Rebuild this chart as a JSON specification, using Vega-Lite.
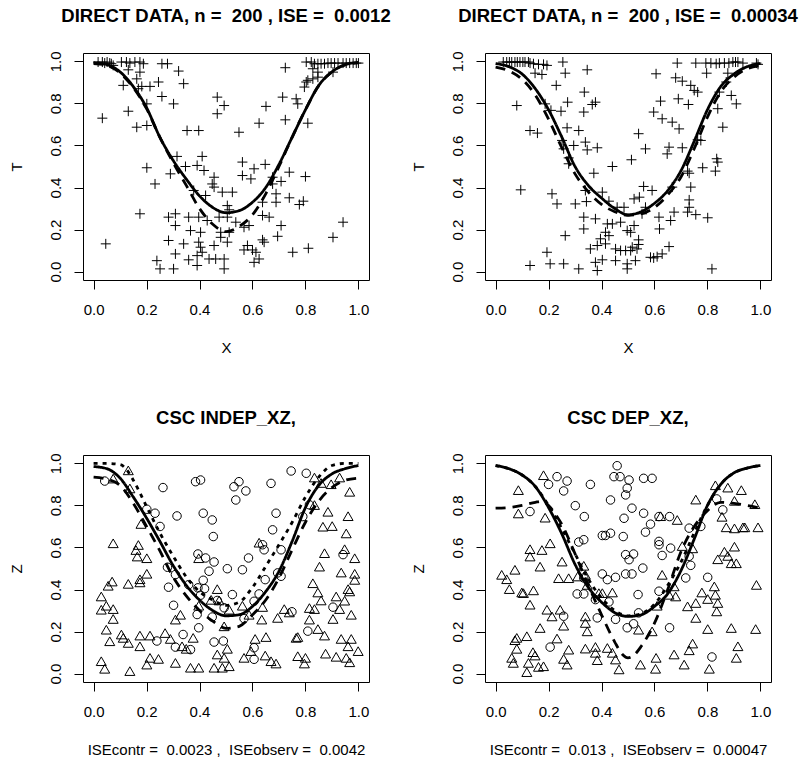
{
"$schema": "https://vega.github.io/schema/vega-lite/v6.json",
"background": "white",
"padding": {"left": 8, "top": 6, "right": 0, "bottom": 0},
"columns": 2,
"spacing": {"row": 175, "column": 116},
"bounds": "flush",
"datasets": {
"ptsA": [
[0.017,0.997],[0.033,0.997],[0.042,0.992],[0.051,0.997],[0.061,0.992],[0.067,0.989],[0.074,0.981],[0.105,0.997],[0.124,0.997],[0.137,0.992],[0.156,0.997],[0.175,0.997],[0.188,0.989],[0.258,0.989],[0.279,0.989],[0.131,0.960],[0.175,0.949],[0.321,0.954],[0.163,0.917],[0.112,0.886],[0.182,0.881],[0.213,0.881],[0.245,0.902],[0.340,0.894],[0.169,0.870],[0.258,0.833],[0.302,0.798],[0.467,0.830],[0.493,0.790],[0.467,0.751],[0.201,0.798],[0.131,0.763],[0.033,0.730],[0.163,0.687],[0.201,0.695],[0.353,0.671],[0.397,0.671],[0.315,0.548],[0.410,0.548],[0.347,0.500],[0.391,0.505],[0.417,0.481],[0.201,0.494],[0.290,0.465],[0.455,0.449],[0.448,0.417],[0.455,0.402],[0.232,0.417],[0.378,0.386],[0.423,0.362],[0.486,0.378],[0.524,0.378],[0.505,0.314],[0.512,0.294],[0.175,0.275],[0.283,0.259],[0.309,0.275],[0.359,0.259],[0.397,0.259],[0.429,0.243],[0.474,0.259],[0.505,0.259],[0.309,0.219],[0.366,0.195],[0.404,0.187],[0.480,0.187],[0.512,0.187],[0.283,0.148],[0.340,0.132],[0.397,0.140],[0.404,0.116],[0.455,0.124],[0.480,0.163],[0.505,0.140],[0.046,0.132],[0.309,0.084],[0.359,0.056],[0.391,0.076],[0.410,0.092],[0.436,0.060],[0.461,0.060],[0.493,0.060],[0.239,0.052],[0.251,0.013],[0.302,0.013],[0.391,0.029],[0.493,0.013],
[0.803,0.997],[0.822,0.997],[0.834,0.989],[0.847,0.989],[0.859,0.989],[0.872,0.989],[0.885,0.992],[0.897,0.992],[0.910,0.992],[0.923,0.992],[0.942,0.992],[0.954,0.992],[0.967,0.992],[0.980,0.992],[0.992,0.992],[1.0,0.992],[0.724,0.970],[0.828,0.965],[0.847,0.949],[0.904,0.949],[0.809,0.910],[0.828,0.917],[0.847,0.925],[0.796,0.878],[0.803,0.902],[0.714,0.830],[0.765,0.822],[0.771,0.798],[0.651,0.786],[0.625,0.706],[0.724,0.722],[0.809,0.706],[0.549,0.663],[0.562,0.521],[0.606,0.489],[0.648,0.510],[0.562,0.457],[0.594,0.441],[0.676,0.449],[0.739,0.473],[0.800,0.452],[0.708,0.429],[0.676,0.417],[0.689,0.370],[0.689,0.330],[0.739,0.351],[0.777,0.319],[0.792,0.335],[0.638,0.330],[0.537,0.235],[0.568,0.211],[0.587,0.219],[0.638,0.267],[0.663,0.259],[0.708,0.219],[0.695,0.168],[0.638,0.151],[0.644,0.140],[0.942,0.235],[0.904,0.163],[0.752,0.092],[0.811,0.111],[0.568,0.103],[0.581,0.124],[0.600,0.103],[0.613,0.092],[0.606,0.044],[0.625,0.060]
],
"ptsB": [
[0.029,0.997],[0.042,0.997],[0.052,0.997],[0.061,0.997],[0.073,0.997],[0.082,0.997],[0.092,0.997],[0.103,0.997],[0.111,0.997],[0.124,0.997],[0.130,0.992],[0.143,0.989],[0.162,0.986],[0.181,0.986],[0.194,0.981],[0.254,0.997],[0.149,0.944],[0.175,0.938],[0.263,0.944],[0.346,0.960],[0.229,0.886],[0.335,0.854],[0.080,0.790],[0.187,0.798],[0.209,0.767],[0.247,0.763],[0.272,0.806],[0.333,0.759],[0.365,0.795],[0.377,0.806],[0.130,0.671],[0.158,0.659],[0.270,0.684],[0.314,0.671],[0.251,0.624],[0.295,0.600],[0.339,0.616],[0.346,0.579],[0.384,0.589],[0.257,0.584],[0.276,0.541],[0.276,0.513],[0.513,0.532],[0.441,0.500],[0.371,0.468],[0.095,0.389],[0.213,0.370],[0.232,0.322],[0.301,0.322],[0.343,0.333],[0.403,0.378],[0.428,0.335],[0.339,0.386],[0.523,0.346],[0.459,0.306],[0.485,0.306],[0.333,0.259],[0.377,0.251],[0.333,0.203],[0.422,0.227],[0.441,0.227],[0.472,0.235],[0.497,0.195],[0.510,0.187],[0.523,0.219],[0.263,0.171],[0.415,0.187],[0.428,0.171],[0.396,0.156],[0.384,0.124],[0.415,0.132],[0.358,0.108],[0.453,0.108],[0.472,0.100],[0.491,0.100],[0.510,0.100],[0.516,0.116],[0.194,0.092],[0.130,0.029],[0.206,0.037],[0.257,0.037],[0.314,0.013],[0.377,0.044],[0.384,0.005],[0.403,0.056],[0.453,0.052],[0.497,0.037],[0.497,0.013],
[0.686,0.992],[0.756,0.992],[0.794,0.992],[0.813,0.992],[0.833,0.989],[0.845,0.992],[0.864,0.992],[0.881,0.992],[0.896,0.997],[0.906,0.997],[0.915,0.997],[0.934,0.992],[0.985,0.992],[0.991,0.986],[0.797,0.944],[0.877,0.944],[0.606,0.941],[0.680,0.922],[0.705,0.906],[0.737,0.886],[0.750,0.862],[0.763,0.854],[0.871,0.902],[0.845,0.854],[0.890,0.838],[0.909,0.798],[0.839,0.775],[0.623,0.811],[0.690,0.822],[0.728,0.795],[0.597,0.759],[0.629,0.727],[0.667,0.711],[0.693,0.679],[0.858,0.687],[0.540,0.656],[0.566,0.584],[0.655,0.592],[0.648,0.560],[0.705,0.589],[0.763,0.627],[0.775,0.624],[0.835,0.537],[0.839,0.521],[0.830,0.478],[0.782,0.494],[0.725,0.478],[0.731,0.468],[0.559,0.405],[0.591,0.386],[0.667,0.402],[0.737,0.402],[0.731,0.341],[0.543,0.354],[0.566,0.306],[0.553,0.275],[0.731,0.306],[0.725,0.283],[0.756,0.271],[0.801,0.256],[0.674,0.283],[0.661,0.243],[0.617,0.259],[0.619,0.203],[0.540,0.151],[0.540,0.129],[0.534,0.108],[0.528,0.052],[0.655,0.119],[0.629,0.084],[0.610,0.071],[0.585,0.068],[0.597,0.065],[0.817,0.013]
],
"circC": [
[0.042,0.916],[0.262,0.885],[0.385,0.913],[0.404,0.921],[0.201,0.782],[0.232,0.763],[0.315,0.750],[0.414,0.763],[0.448,0.731],[0.251,0.700],[0.452,0.652],[0.394,0.569],[0.423,0.550],[0.455,0.531],[0.505,0.499],[0.436,0.487],[0.279,0.506],[0.309,0.471],[0.414,0.444],[0.359,0.423],[0.394,0.408],[0.419,0.404],[0.283,0.411],[0.404,0.373],[0.467,0.348],[0.493,0.313],[0.302,0.325],[0.391,0.281],[0.448,0.269],[0.397,0.218],[0.338,0.186],[0.239,0.155],[0.309,0.126],[0.366,0.114],[0.455,0.150],[0.490,0.155],
[0.530,0.889],[0.549,0.913],[0.575,0.869],[0.537,0.826],[0.670,0.905],[0.746,0.964],[0.803,0.953],[0.689,0.763],[0.676,0.684],[0.815,0.803],[0.790,0.747],[0.638,0.613],[0.644,0.589],[0.585,0.550],[0.562,0.494],[0.708,0.589],[0.695,0.479],[0.648,0.447],[0.708,0.463],[0.625,0.379],[0.524,0.376],[0.606,0.344],[0.749,0.294],[0.568,0.262],[0.904,0.316],[0.942,0.566],[0.809,0.202],[0.606,0.123],[0.606,0.068]
],
"triC": [
[0.131,0.960],[0.074,0.921],[0.137,0.874],[0.179,0.705],[0.074,0.613],[0.169,0.605],[0.160,0.581],[0.165,0.550],[0.201,0.542],[0.397,0.542],[0.201,0.468],[0.175,0.442],[0.070,0.431],[0.055,0.411],[0.131,0.420],[0.175,0.427],[0.467,0.395],[0.029,0.360],[0.444,0.344],[0.474,0.341],[0.048,0.316],[0.029,0.297],[0.074,0.300],[0.074,0.253],[0.397,0.316],[0.328,0.273],[0.309,0.250],[0.512,0.297],[0.493,0.218],[0.048,0.202],[0.105,0.179],[0.112,0.163],[0.061,0.147],[0.131,0.139],[0.175,0.174],[0.213,0.174],[0.270,0.186],[0.290,0.158],[0.175,0.123],[0.334,0.123],[0.350,0.111],[0.376,0.163],[0.505,0.111],[0.467,0.084],[0.493,0.068],[0.029,0.052],[0.042,0.016],[0.137,0.005],[0.213,0.068],[0.245,0.063],[0.201,0.036],[0.309,0.044],[0.366,0.021],[0.397,0.021],[0.455,0.021],[0.486,0.021],[0.512,0.028],
[0.834,0.926],[0.859,0.900],[0.897,0.894],[0.929,0.926],[0.967,0.858],[0.834,0.795],[0.885,0.763],[0.961,0.742],[0.866,0.692],[0.901,0.695],[0.954,0.660],[0.625,0.616],[0.872,0.566],[0.948,0.585],[0.986,0.542],[0.853,0.502],[0.935,0.474],[0.986,0.468],[0.986,0.439],[0.828,0.423],[0.847,0.379],[0.859,0.341],[0.961,0.395],[0.967,0.384],[0.916,0.360],[0.948,0.340],[0.929,0.300],[0.973,0.273],[0.904,0.253],[0.815,0.305],[0.834,0.300],[0.720,0.300],[0.739,0.284],[0.638,0.310],[0.635,0.250],[0.695,0.258],[0.562,0.316],[0.587,0.273],[0.815,0.250],[0.847,0.205],[0.872,0.174],[0.610,0.158],[0.651,0.167],[0.765,0.163],[0.771,0.167],[0.935,0.158],[0.973,0.158],[0.961,0.123],[0.999,0.100],[0.568,0.068],[0.594,0.100],[0.648,0.079],[0.670,0.052],[0.689,0.041],[0.771,0.076],[0.800,0.068],[0.796,0.041],[0.876,0.088],[0.916,0.073],[0.954,0.068],[0.967,0.047]
],
"circD": [
[0.232,0.937],[0.200,0.900],[0.270,0.916],[0.257,0.869],[0.358,0.900],[0.459,0.989],[0.447,0.937],[0.470,0.937],[0.504,0.921],[0.497,0.882],[0.434,0.826],[0.491,0.850],[0.130,0.771],[0.301,0.799],[0.335,0.747],[0.485,0.739],[0.314,0.626],[0.333,0.637],[0.403,0.657],[0.415,0.657],[0.434,0.668],[0.482,0.652],[0.491,0.566],[0.504,0.542],[0.403,0.474],[0.422,0.447],[0.453,0.458],[0.491,0.474],[0.333,0.455],[0.308,0.379],[0.333,0.379],[0.377,0.352],[0.428,0.341],[0.384,0.265],[0.453,0.258],[0.497,0.218],[0.257,0.273],[0.206,0.126],
[0.559,0.929],[0.591,0.929],[0.515,0.787],[0.559,0.763],[0.585,0.711],[0.566,0.673],[0.617,0.747],[0.657,0.747],[0.731,0.692],[0.775,0.700],[0.617,0.629],[0.617,0.613],[0.629,0.562],[0.661,0.597],[0.731,0.558],[0.737,0.515],[0.718,0.455],[0.521,0.569],[0.515,0.474],[0.556,0.502],[0.538,0.376],[0.617,0.392],[0.801,0.458],[0.858,0.779],[0.835,0.831],[0.657,0.218],[0.817,0.079],[0.540,0.289],[0.521,0.237]
],
"triD": [
[0.181,0.937],[0.086,0.866],[0.086,0.755],[0.187,0.735],[0.206,0.613],[0.130,0.585],[0.175,0.581],[0.130,0.550],[0.168,0.502],[0.251,0.526],[0.073,0.487],[0.023,0.463],[0.042,0.442],[0.052,0.395],[0.099,0.379],[0.105,0.376],[0.143,0.389],[0.238,0.447],[0.276,0.447],[0.310,0.455],[0.333,0.506],[0.339,0.463],[0.346,0.415],[0.390,0.376],[0.403,0.376],[0.441,0.379],[0.130,0.321],[0.194,0.297],[0.213,0.265],[0.244,0.297],[0.257,0.221],[0.339,0.265],[0.339,0.234],[0.346,0.194],[0.168,0.210],[0.080,0.163],[0.073,0.152],[0.118,0.171],[0.080,0.111],[0.232,0.160],[0.061,0.068],[0.067,0.044],[0.141,0.095],[0.149,0.079],[0.124,0.044],[0.162,0.025],[0.118,0.000],[0.257,0.063],[0.270,0.036],[0.276,0.107],[0.339,0.112],[0.377,0.120],[0.377,0.092],[0.384,0.057],[0.422,0.115],[0.441,0.092],[0.453,0.060],[0.466,0.013],[0.181,0.028],
[0.623,0.742],[0.686,0.724],[0.830,0.889],[0.877,0.878],[0.928,0.866],[0.756,0.821],[0.902,0.815],[0.979,0.799],[0.855,0.739],[0.871,0.689],[0.902,0.684],[0.934,0.689],[0.941,0.689],[0.991,0.689],[0.705,0.600],[0.744,0.589],[0.864,0.573],[0.877,0.553],[0.902,0.597],[0.839,0.537],[0.890,0.518],[0.909,0.518],[0.629,0.463],[0.674,0.408],[0.655,0.368],[0.680,0.360],[0.725,0.313],[0.756,0.329],[0.779,0.379],[0.801,0.348],[0.826,0.408],[0.830,0.368],[0.839,0.329],[0.835,0.289],[0.756,0.258],[0.610,0.316],[0.591,0.194],[0.540,0.202],[0.801,0.205],[0.890,0.210],[0.982,0.205],[0.985,0.415],[0.744,0.136],[0.731,0.104],[0.674,0.084],[0.606,0.068],[0.547,0.036],[0.604,0.016],[0.712,0.036],[0.807,0.016],[0.909,0.068],[0.915,0.123]
],
"curves": [
{"p":"A","l":"solid","x":0,"y":0.994},{"p":"A","l":"solid","x":0.05,"y":0.985},{"p":"A","l":"solid","x":0.1,"y":0.95},{"p":"A","l":"solid","x":0.15,"y":0.88},{"p":"A","l":"solid","x":0.2,"y":0.78},{"p":"A","l":"solid","x":0.25,"y":0.64},{"p":"A","l":"solid","x":0.3,"y":0.53},{"p":"A","l":"solid","x":0.35,"y":0.44},{"p":"A","l":"solid","x":0.4,"y":0.36},{"p":"A","l":"solid","x":0.45,"y":0.305},{"p":"A","l":"solid","x":0.5,"y":0.28},{"p":"A","l":"solid","x":0.55,"y":0.29},{"p":"A","l":"solid","x":0.6,"y":0.33},{"p":"A","l":"solid","x":0.65,"y":0.4},{"p":"A","l":"solid","x":0.7,"y":0.51},{"p":"A","l":"solid","x":0.75,"y":0.64},{"p":"A","l":"solid","x":0.8,"y":0.77},{"p":"A","l":"solid","x":0.85,"y":0.885},{"p":"A","l":"solid","x":0.9,"y":0.95},{"p":"A","l":"solid","x":0.95,"y":0.985},{"p":"A","l":"solid","x":1,"y":0.995},
{"p":"A","l":"dashed","x":0,"y":0.99},{"p":"A","l":"dashed","x":0.05,"y":0.982},{"p":"A","l":"dashed","x":0.1,"y":0.945},{"p":"A","l":"dashed","x":0.15,"y":0.875},{"p":"A","l":"dashed","x":0.2,"y":0.775},{"p":"A","l":"dashed","x":0.25,"y":0.64},{"p":"A","l":"dashed","x":0.3,"y":0.52},{"p":"A","l":"dashed","x":0.35,"y":0.41},{"p":"A","l":"dashed","x":0.4,"y":0.3},{"p":"A","l":"dashed","x":0.45,"y":0.225},{"p":"A","l":"dashed","x":0.5,"y":0.19},{"p":"A","l":"dashed","x":0.55,"y":0.215},{"p":"A","l":"dashed","x":0.6,"y":0.27},{"p":"A","l":"dashed","x":0.65,"y":0.37},{"p":"A","l":"dashed","x":0.7,"y":0.5},{"p":"A","l":"dashed","x":0.75,"y":0.64},{"p":"A","l":"dashed","x":0.8,"y":0.77},{"p":"A","l":"dashed","x":0.85,"y":0.885},{"p":"A","l":"dashed","x":0.9,"y":0.95},{"p":"A","l":"dashed","x":0.95,"y":0.983},{"p":"A","l":"dashed","x":1,"y":0.993},
{"p":"B","l":"solid","x":0,"y":0.99},{"p":"B","l":"solid","x":0.05,"y":0.975},{"p":"B","l":"solid","x":0.1,"y":0.94},{"p":"B","l":"solid","x":0.15,"y":0.87},{"p":"B","l":"solid","x":0.2,"y":0.77},{"p":"B","l":"solid","x":0.25,"y":0.64},{"p":"B","l":"solid","x":0.3,"y":0.5},{"p":"B","l":"solid","x":0.35,"y":0.41},{"p":"B","l":"solid","x":0.4,"y":0.35},{"p":"B","l":"solid","x":0.45,"y":0.3},{"p":"B","l":"solid","x":0.5,"y":0.27},{"p":"B","l":"solid","x":0.55,"y":0.285},{"p":"B","l":"solid","x":0.6,"y":0.325},{"p":"B","l":"solid","x":0.65,"y":0.385},{"p":"B","l":"solid","x":0.7,"y":0.48},{"p":"B","l":"solid","x":0.75,"y":0.62},{"p":"B","l":"solid","x":0.8,"y":0.77},{"p":"B","l":"solid","x":0.85,"y":0.88},{"p":"B","l":"solid","x":0.9,"y":0.94},{"p":"B","l":"solid","x":0.95,"y":0.975},{"p":"B","l":"solid","x":1,"y":0.99},
{"p":"B","l":"dashed","x":0,"y":0.973},{"p":"B","l":"dashed","x":0.05,"y":0.955},{"p":"B","l":"dashed","x":0.1,"y":0.915},{"p":"B","l":"dashed","x":0.15,"y":0.84},{"p":"B","l":"dashed","x":0.2,"y":0.725},{"p":"B","l":"dashed","x":0.25,"y":0.59},{"p":"B","l":"dashed","x":0.3,"y":0.465},{"p":"B","l":"dashed","x":0.35,"y":0.38},{"p":"B","l":"dashed","x":0.4,"y":0.32},{"p":"B","l":"dashed","x":0.45,"y":0.285},{"p":"B","l":"dashed","x":0.5,"y":0.268},{"p":"B","l":"dashed","x":0.55,"y":0.275},{"p":"B","l":"dashed","x":0.6,"y":0.305},{"p":"B","l":"dashed","x":0.65,"y":0.365},{"p":"B","l":"dashed","x":0.7,"y":0.45},{"p":"B","l":"dashed","x":0.75,"y":0.585},{"p":"B","l":"dashed","x":0.8,"y":0.735},{"p":"B","l":"dashed","x":0.85,"y":0.855},{"p":"B","l":"dashed","x":0.9,"y":0.925},{"p":"B","l":"dashed","x":0.95,"y":0.965},{"p":"B","l":"dashed","x":1,"y":0.98},
{"p":"C","l":"solid","x":0,"y":0.985},{"p":"C","l":"solid","x":0.05,"y":0.975},{"p":"C","l":"solid","x":0.1,"y":0.93},{"p":"C","l":"solid","x":0.15,"y":0.84},{"p":"C","l":"solid","x":0.2,"y":0.74},{"p":"C","l":"solid","x":0.25,"y":0.63},{"p":"C","l":"solid","x":0.3,"y":0.515},{"p":"C","l":"solid","x":0.35,"y":0.42},{"p":"C","l":"solid","x":0.4,"y":0.35},{"p":"C","l":"solid","x":0.45,"y":0.3},{"p":"C","l":"solid","x":0.5,"y":0.275},{"p":"C","l":"solid","x":0.55,"y":0.28},{"p":"C","l":"solid","x":0.6,"y":0.32},{"p":"C","l":"solid","x":0.65,"y":0.39},{"p":"C","l":"solid","x":0.7,"y":0.487},{"p":"C","l":"solid","x":0.75,"y":0.63},{"p":"C","l":"solid","x":0.8,"y":0.79},{"p":"C","l":"solid","x":0.85,"y":0.895},{"p":"C","l":"solid","x":0.9,"y":0.95},{"p":"C","l":"solid","x":0.95,"y":0.975},{"p":"C","l":"solid","x":1,"y":0.99},
{"p":"C","l":"dotted","x":0,"y":1.0},{"p":"C","l":"dotted","x":0.05,"y":1.0},{"p":"C","l":"dotted","x":0.1,"y":0.995},{"p":"C","l":"dotted","x":0.125,"y":0.97},{"p":"C","l":"dotted","x":0.15,"y":0.92},{"p":"C","l":"dotted","x":0.2,"y":0.795},{"p":"C","l":"dotted","x":0.25,"y":0.67},{"p":"C","l":"dotted","x":0.3,"y":0.56},{"p":"C","l":"dotted","x":0.35,"y":0.46},{"p":"C","l":"dotted","x":0.4,"y":0.39},{"p":"C","l":"dotted","x":0.45,"y":0.35},{"p":"C","l":"dotted","x":0.5,"y":0.325},{"p":"C","l":"dotted","x":0.55,"y":0.34},{"p":"C","l":"dotted","x":0.6,"y":0.41},{"p":"C","l":"dotted","x":0.65,"y":0.51},{"p":"C","l":"dotted","x":0.7,"y":0.613},{"p":"C","l":"dotted","x":0.75,"y":0.72},{"p":"C","l":"dotted","x":0.8,"y":0.84},{"p":"C","l":"dotted","x":0.85,"y":0.935},{"p":"C","l":"dotted","x":0.9,"y":0.99},{"p":"C","l":"dotted","x":0.95,"y":1.0},{"p":"C","l":"dotted","x":1,"y":1.0},
{"p":"C","l":"dashed","x":0,"y":0.935},{"p":"C","l":"dashed","x":0.05,"y":0.925},{"p":"C","l":"dashed","x":0.1,"y":0.895},{"p":"C","l":"dashed","x":0.15,"y":0.81},{"p":"C","l":"dashed","x":0.2,"y":0.7},{"p":"C","l":"dashed","x":0.25,"y":0.585},{"p":"C","l":"dashed","x":0.3,"y":0.46},{"p":"C","l":"dashed","x":0.35,"y":0.37},{"p":"C","l":"dashed","x":0.4,"y":0.3},{"p":"C","l":"dashed","x":0.45,"y":0.25},{"p":"C","l":"dashed","x":0.5,"y":0.215},{"p":"C","l":"dashed","x":0.55,"y":0.225},{"p":"C","l":"dashed","x":0.6,"y":0.28},{"p":"C","l":"dashed","x":0.65,"y":0.35},{"p":"C","l":"dashed","x":0.7,"y":0.455},{"p":"C","l":"dashed","x":0.75,"y":0.59},{"p":"C","l":"dashed","x":0.8,"y":0.72},{"p":"C","l":"dashed","x":0.85,"y":0.82},{"p":"C","l":"dashed","x":0.9,"y":0.885},{"p":"C","l":"dashed","x":0.95,"y":0.92},{"p":"C","l":"dashed","x":1,"y":0.93},
{"p":"D","l":"solid","x":0,"y":0.99},{"p":"D","l":"solid","x":0.05,"y":0.975},{"p":"D","l":"solid","x":0.1,"y":0.945},{"p":"D","l":"solid","x":0.15,"y":0.89},{"p":"D","l":"solid","x":0.2,"y":0.79},{"p":"D","l":"solid","x":0.25,"y":0.665},{"p":"D","l":"solid","x":0.3,"y":0.52},{"p":"D","l":"solid","x":0.35,"y":0.41},{"p":"D","l":"solid","x":0.4,"y":0.34},{"p":"D","l":"solid","x":0.45,"y":0.29},{"p":"D","l":"solid","x":0.5,"y":0.272},{"p":"D","l":"solid","x":0.55,"y":0.28},{"p":"D","l":"solid","x":0.6,"y":0.32},{"p":"D","l":"solid","x":0.65,"y":0.38},{"p":"D","l":"solid","x":0.7,"y":0.49},{"p":"D","l":"solid","x":0.75,"y":0.64},{"p":"D","l":"solid","x":0.8,"y":0.8},{"p":"D","l":"solid","x":0.85,"y":0.9},{"p":"D","l":"solid","x":0.9,"y":0.955},{"p":"D","l":"solid","x":0.95,"y":0.978},{"p":"D","l":"solid","x":1,"y":0.99},
{"p":"D","l":"dotted","x":0,"y":0.99},{"p":"D","l":"dotted","x":0.05,"y":0.975},{"p":"D","l":"dotted","x":0.1,"y":0.945},{"p":"D","l":"dotted","x":0.15,"y":0.89},{"p":"D","l":"dotted","x":0.2,"y":0.8},{"p":"D","l":"dotted","x":0.25,"y":0.69},{"p":"D","l":"dotted","x":0.3,"y":0.57},{"p":"D","l":"dotted","x":0.35,"y":0.45},{"p":"D","l":"dotted","x":0.4,"y":0.36},{"p":"D","l":"dotted","x":0.45,"y":0.3},{"p":"D","l":"dotted","x":0.5,"y":0.275},{"p":"D","l":"dotted","x":0.55,"y":0.285},{"p":"D","l":"dotted","x":0.6,"y":0.33},{"p":"D","l":"dotted","x":0.65,"y":0.42},{"p":"D","l":"dotted","x":0.7,"y":0.53},{"p":"D","l":"dotted","x":0.75,"y":0.67},{"p":"D","l":"dotted","x":0.8,"y":0.8},{"p":"D","l":"dotted","x":0.85,"y":0.9},{"p":"D","l":"dotted","x":0.9,"y":0.955},{"p":"D","l":"dotted","x":0.95,"y":0.978},{"p":"D","l":"dotted","x":1,"y":0.99},
{"p":"D","l":"dashed","x":0,"y":0.787},{"p":"D","l":"dashed","x":0.05,"y":0.79},{"p":"D","l":"dashed","x":0.1,"y":0.8},{"p":"D","l":"dashed","x":0.15,"y":0.815},{"p":"D","l":"dashed","x":0.175,"y":0.82},{"p":"D","l":"dashed","x":0.2,"y":0.8},{"p":"D","l":"dashed","x":0.225,"y":0.76},{"p":"D","l":"dashed","x":0.25,"y":0.71},{"p":"D","l":"dashed","x":0.3,"y":0.57},{"p":"D","l":"dashed","x":0.35,"y":0.42},{"p":"D","l":"dashed","x":0.4,"y":0.28},{"p":"D","l":"dashed","x":0.45,"y":0.15},{"p":"D","l":"dashed","x":0.48,"y":0.09},{"p":"D","l":"dashed","x":0.5,"y":0.075},{"p":"D","l":"dashed","x":0.52,"y":0.085},{"p":"D","l":"dashed","x":0.55,"y":0.13},{"p":"D","l":"dashed","x":0.6,"y":0.24},{"p":"D","l":"dashed","x":0.65,"y":0.4},{"p":"D","l":"dashed","x":0.7,"y":0.58},{"p":"D","l":"dashed","x":0.75,"y":0.7},{"p":"D","l":"dashed","x":0.8,"y":0.775},{"p":"D","l":"dashed","x":0.85,"y":0.815},{"p":"D","l":"dashed","x":0.9,"y":0.81},{"p":"D","l":"dashed","x":0.95,"y":0.8},{"p":"D","l":"dashed","x":1,"y":0.787}
]
},
"concat": [
{
"width": 286, "height": 227,
"title": {"text": "DIRECT DATA, n = \u00a0200 , ISE = \u00a00.0012"},
"layer": [
{"data": {"name": "ptsA"}, "mark": {"type": "point", "shape": "M-1,0L1,0M0,-1L0,1", "size": 100, "filled": false, "stroke": "black", "strokeWidth": 1, "opacity": 1},
 "encoding": {"x": {"field": "0", "type": "quantitative", "scale": {"domain": [-0.04, 1.04], "nice": false, "zero": false}, "axis": {"title": "X", "values": [0, 0.2, 0.4, 0.6, 0.8, 1], "format": ".1f"}},
              "y": {"field": "1", "type": "quantitative", "scale": {"domain": [-0.04, 1.04], "nice": false, "zero": false}, "axis": {"title": "T", "values": [0, 0.2, 0.4, 0.6, 0.8, 1], "format": ".1f"}}}},
{"data": {"name": "curves"}, "transform": [{"filter": "datum.p == 'A'"}], "mark": {"type": "line", "stroke": "black", "strokeWidth": 2.8, "interpolate": "monotone"},
 "encoding": {"x": {"field": "x", "type": "quantitative"}, "y": {"field": "y", "type": "quantitative"},
   "strokeDash": {"field": "l", "type": "nominal", "scale": {"domain": ["solid", "dashed", "dotted"], "range": [[1, 0], [10, 7], [4, 5]]}, "legend": null}}}
]
},
{
"width": 286, "height": 227,
"title": {"text": "DIRECT DATA, n = \u00a0200 , ISE = \u00a00.00034"},
"layer": [
{"data": {"name": "ptsB"}, "mark": {"type": "point", "shape": "M-1,0L1,0M0,-1L0,1", "size": 100, "filled": false, "stroke": "black", "strokeWidth": 1, "opacity": 1},
 "encoding": {"x": {"field": "0", "type": "quantitative", "scale": {"domain": [-0.04, 1.04], "nice": false, "zero": false}, "axis": {"title": "X", "values": [0, 0.2, 0.4, 0.6, 0.8, 1], "format": ".1f"}},
              "y": {"field": "1", "type": "quantitative", "scale": {"domain": [-0.04, 1.04], "nice": false, "zero": false}, "axis": {"title": "T", "values": [0, 0.2, 0.4, 0.6, 0.8, 1], "format": ".1f"}}}},
{"data": {"name": "curves"}, "transform": [{"filter": "datum.p == 'B'"}], "mark": {"type": "line", "stroke": "black", "strokeWidth": 2.8, "interpolate": "monotone"},
 "encoding": {"x": {"field": "x", "type": "quantitative"}, "y": {"field": "y", "type": "quantitative"},
   "strokeDash": {"field": "l", "type": "nominal", "scale": {"domain": ["solid", "dashed", "dotted"], "range": [[1, 0], [10, 7], [4, 5]]}, "legend": null}}}
]
},
{
"width": 286, "height": 227,
"title": {"text": "CSC INDEP_XZ,"},
"layer": [
{"data": {"name": "circC"}, "mark": {"type": "point", "shape": "circle", "size": 72, "filled": false, "stroke": "black", "strokeWidth": 1, "opacity": 1},
 "encoding": {"x": {"field": "0", "type": "quantitative", "scale": {"domain": [-0.04, 1.04], "nice": false, "zero": false}, "axis": {"title": "ISEcontr = \u00a00.0023 , \u00a0ISEobserv = \u00a00.0042", "values": [0, 0.2, 0.4, 0.6, 0.8, 1], "format": ".1f"}},
              "y": {"field": "1", "type": "quantitative", "scale": {"domain": [-0.04, 1.04], "nice": false, "zero": false}, "axis": {"title": "Z", "values": [0, 0.2, 0.4, 0.6, 0.8, 1], "format": ".1f"}}}},
{"data": {"name": "triC"}, "mark": {"type": "point", "shape": "M0,-1L0.866,0.5L-0.866,0.5Z", "size": 133, "filled": false, "stroke": "black", "strokeWidth": 1, "opacity": 1},
 "encoding": {"x": {"field": "0", "type": "quantitative"}, "y": {"field": "1", "type": "quantitative"}}},
{"data": {"name": "curves"}, "transform": [{"filter": "datum.p == 'C'"}], "mark": {"type": "line", "stroke": "black", "strokeWidth": 2.8, "interpolate": "monotone"},
 "encoding": {"x": {"field": "x", "type": "quantitative"}, "y": {"field": "y", "type": "quantitative"},
   "strokeDash": {"field": "l", "type": "nominal", "scale": {"domain": ["solid", "dashed", "dotted"], "range": [[1, 0], [10, 7], [4, 5]]}, "legend": null}}}
]
},
{
"width": 286, "height": 227,
"title": {"text": "CSC DEP_XZ,"},
"layer": [
{"data": {"name": "circD"}, "mark": {"type": "point", "shape": "circle", "size": 72, "filled": false, "stroke": "black", "strokeWidth": 1, "opacity": 1},
 "encoding": {"x": {"field": "0", "type": "quantitative", "scale": {"domain": [-0.04, 1.04], "nice": false, "zero": false}, "axis": {"title": "ISEcontr = \u00a00.013 , \u00a0ISEobserv = \u00a00.00047", "values": [0, 0.2, 0.4, 0.6, 0.8, 1], "format": ".1f"}},
              "y": {"field": "1", "type": "quantitative", "scale": {"domain": [-0.04, 1.04], "nice": false, "zero": false}, "axis": {"title": "Z", "values": [0, 0.2, 0.4, 0.6, 0.8, 1], "format": ".1f"}}}},
{"data": {"name": "triD"}, "mark": {"type": "point", "shape": "M0,-1L0.866,0.5L-0.866,0.5Z", "size": 133, "filled": false, "stroke": "black", "strokeWidth": 1, "opacity": 1},
 "encoding": {"x": {"field": "0", "type": "quantitative"}, "y": {"field": "1", "type": "quantitative"}}},
{"data": {"name": "curves"}, "transform": [{"filter": "datum.p == 'D'"}], "mark": {"type": "line", "stroke": "black", "strokeWidth": 2.8, "interpolate": "monotone"},
 "encoding": {"x": {"field": "x", "type": "quantitative"}, "y": {"field": "y", "type": "quantitative"},
   "strokeDash": {"field": "l", "type": "nominal", "scale": {"domain": ["solid", "dashed", "dotted"], "range": [[1, 0], [10, 7], [4, 5]]}, "legend": null}}}
]
}
],
"config": {
"view": {"stroke": "black", "strokeWidth": 1},
"axis": {"domain": false, "grid": false, "tickColor": "black", "tickSize": 9, "tickWidth": 1, "labelColor": "black", "labelFont": "Liberation Sans", "labelFontSize": 15, "titleColor": "black", "titleFont": "Liberation Sans", "titleFontSize": 15, "titleFontWeight": "normal", "labelFlush": false, "labelOverlap": false},
"axisX": {"labelBaseline": "middle", "labelPadding": 20, "titleBaseline": "middle", "titleY": 67},
"axisY": {"labelAngle": 270, "labelAlign": "center", "labelBaseline": "middle", "labelPadding": 19, "titleAngle": 270, "titleAlign": "center", "titleBaseline": "middle", "titleX": -67},
"title": {"font": "Liberation Sans", "fontSize": 18.5, "fontWeight": "bold", "color": "black", "anchor": "middle", "frame": "group", "baseline": "alphabetic", "offset": 25.5}
}
}
